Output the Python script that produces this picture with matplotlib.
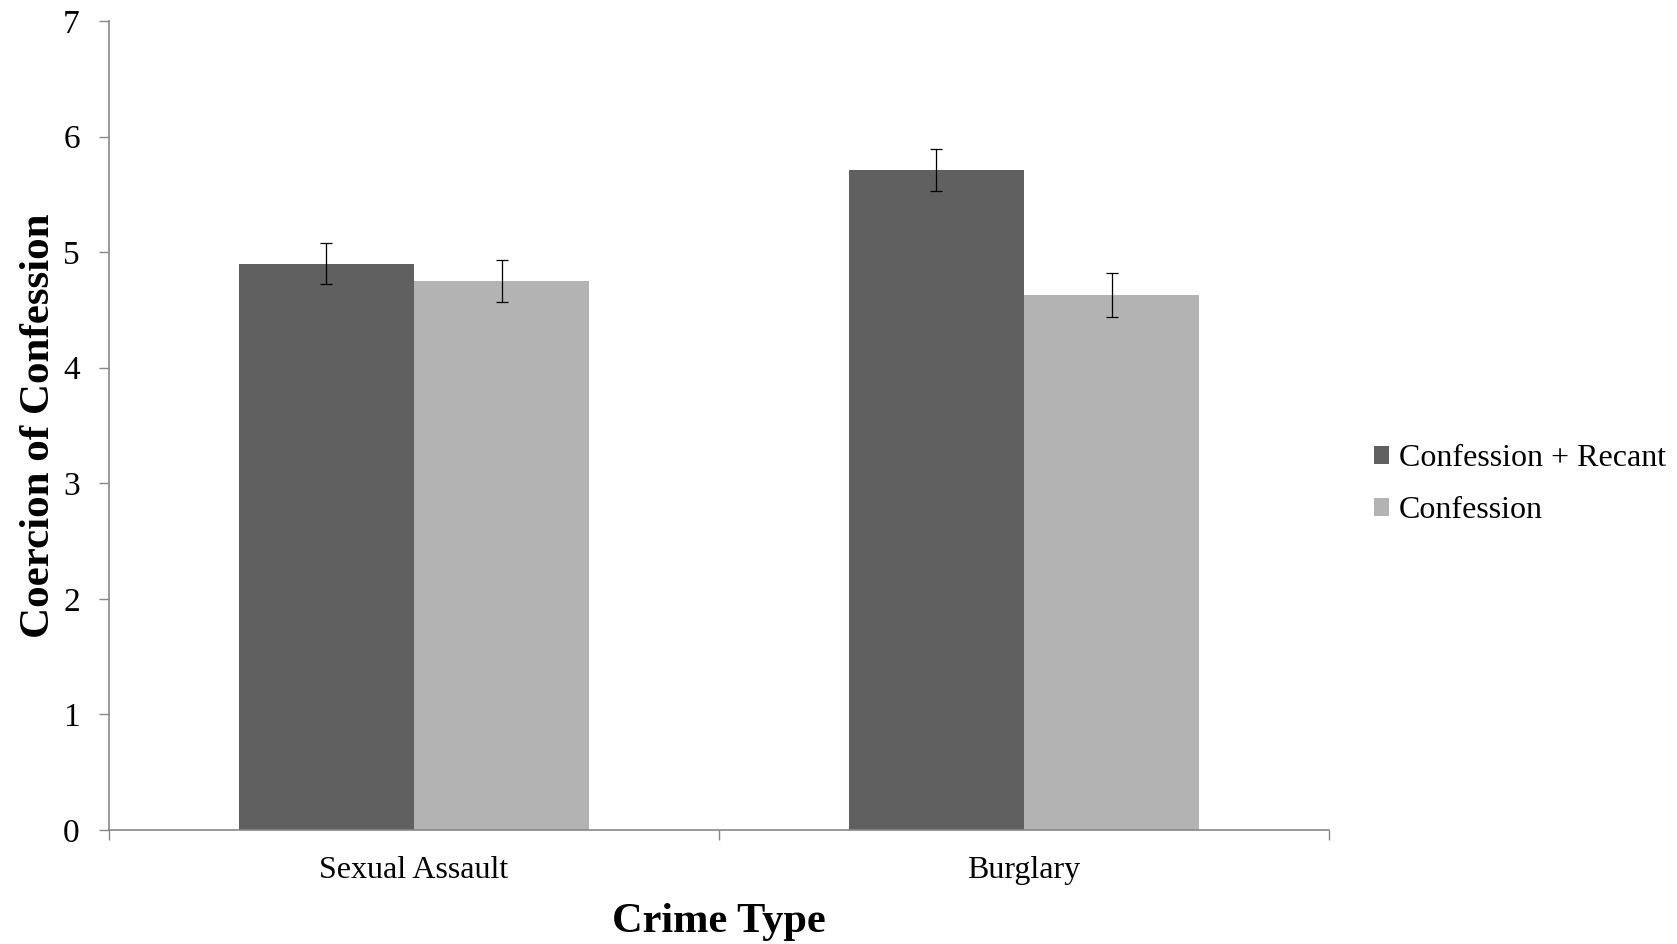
import matplotlib.pyplot as plt
import numpy as np

# Data
crime_types = ['Sexual Assault', 'Burglary']
recant_means = [4.90, 5.71]
recant_err = [0.18, 0.18]
confession_means = [4.75, 4.63]
confession_err = [0.185, 0.19]
series_labels = ['Confession + Recant', 'Confession']

plt.rcParams['font.family'] = ['Liberation Serif', 'DejaVu Serif']

fig = plt.figure(figsize=(16.77, 9.44), dpi=100)
ax = fig.add_axes([0.065, 0.1208, 0.7275, 0.857])

x = np.arange(len(crime_types))
w = 0.287
err_style = dict(ecolor='black', elinewidth=0.9, capsize=4.3, capthick=0.9)
ax.bar(x - w / 2, recant_means, w, color='#606060', label=series_labels[0],
       yerr=recant_err, error_kw=err_style)
ax.bar(x + w / 2, confession_means, w, color='#B3B3B3', label=series_labels[1],
       yerr=confession_err, error_kw=err_style)

ax.set_xlim(-0.5, len(crime_types) - 0.5)
ax.set_ylim(0, 7)
ax.set_yticks(range(0, 8))
ax.set_xticks(x)
ax.set_xticklabels(crime_types)
ax.set_xticks(np.arange(-0.5, len(crime_types)), minor=True)

for side in ['top', 'right']:
    ax.spines[side].set_visible(False)
for side in ['left', 'bottom']:
    ax.spines[side].set_color('#878787')
    ax.spines[side].set_linewidth(1.2)

ax.tick_params(axis='y', which='major', length=7, width=1, color='#878787',
               labelsize=24, pad=14)
ax.tick_params(axis='x', which='major', length=0, labelsize=23, pad=19)
ax.tick_params(axis='x', which='minor', length=7, width=1, color='#878787')

ax.set_xlabel('Crime Type', fontsize=30.5, fontweight='bold', labelpad=13)
ax.set_ylabel('Coercion of Confession', fontsize=31, fontweight='bold', labelpad=4)

ax.legend(loc='center left', bbox_to_anchor=(1.013, 0.427), frameon=False,
          fontsize=23, handlelength=0.48, handleheight=0.48, handletextpad=0.3,
          labelspacing=0.72)

fig.savefig('out.png', dpi=100)
